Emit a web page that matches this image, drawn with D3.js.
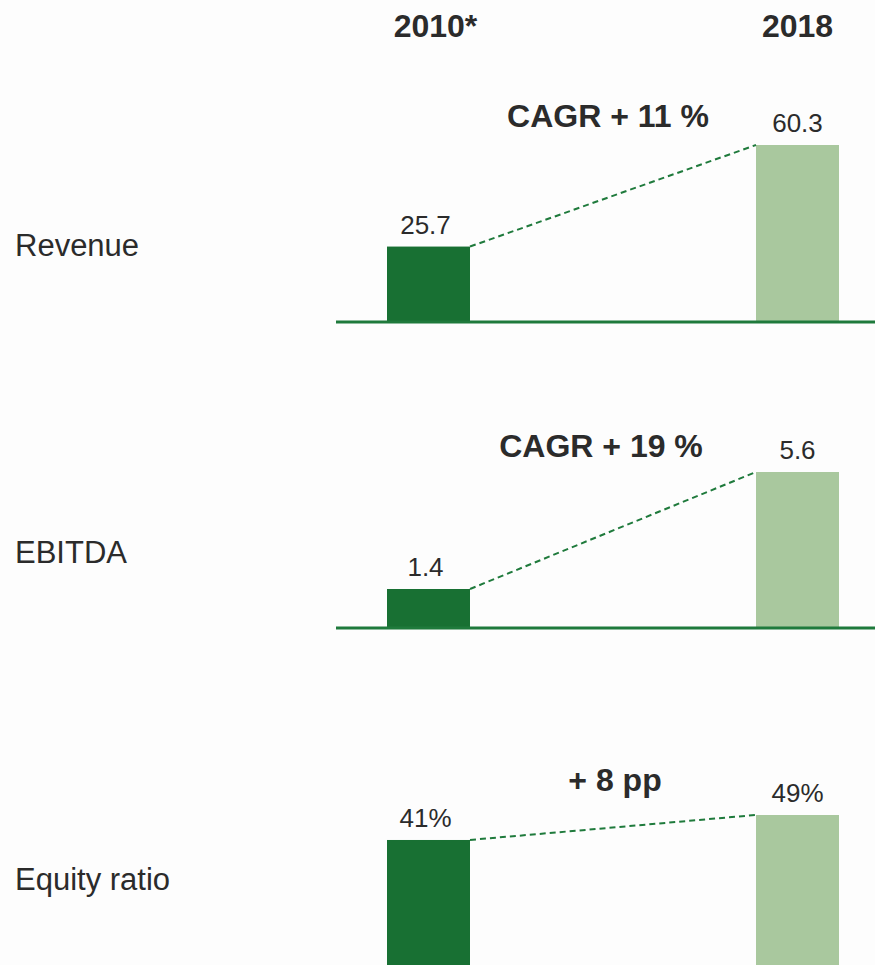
<!DOCTYPE html>
<html>
<head>
<meta charset="utf-8">
<script src="https://cdn.jsdelivr.net/npm/d3@7"></script>
<style>
  body { margin: 0; background: #fdfdfd; }
  svg { display: block; font-family: "Liberation Sans", Arial, sans-serif; }
</style>
</head>
<body>
<div id="chart"></div>
<script>
const years = ["2010*", "2018"];
const metrics = ["Revenue", "EBITDA", "Equity ratio"];
const values2010 = [25.7, 1.4, 41];
const values2018 = [60.3, 5.6, 49];
const valueLabels2010 = ["25.7", "1.4", "41%"];
const valueLabels2018 = ["60.3", "5.6", "49%"];
const changeLabels = ["CAGR + 11 %", "CAGR + 19 %", "+ 8 pp"];

const width = 875;
const height = 965;

// layout per panel: baseline y, pixel top for the 2018 bar, label positions
const panels = [
  { base: 322, top: 145, labelY: 256, changeX: 608, changeY: 127, axis: true },
  { base: 628, top: 472, labelY: 563, changeX: 601, changeY: 457, axis: true },
  { base: 968, top: 815, labelY: 890, changeX: 615, changeY: 791, axis: false },
];

const darkGreen = "#187033";
const lightGreen = "#a9c89e";
const textColor = "#2b2b2b";

const svg = d3
  .select("#chart")
  .append("svg")
  .attr("width", width)
  .attr("height", height);

const xPos = d3.scaleOrdinal().domain(years).range([387, 756]);
const barWidth = 83;

// year headers (the asterisk hangs off the centred "2010")
svg
  .selectAll(".year")
  .data(years)
  .enter()
  .append("text")
  .attr("class", "year")
  .attr("x", (d, j) => xPos(d) + barWidth / 2 + (j === 0 ? 7 : 0))
  .attr("y", 37)
  .attr("text-anchor", "middle")
  .style("font-size", "32px")
  .style("font-weight", "bold")
  .attr("fill", textColor)
  .text((d) => d);

metrics.forEach((metric, i) => {
  const p = panels[i];
  const yScale = d3
    .scaleLinear()
    .domain([0, values2018[i]])
    .range([p.base, p.top]);

  const g = svg.append("g").attr("class", "panel");

  g.append("text")
    .attr("x", 15)
    .attr("y", p.labelY)
    .style("font-size", "31px")
    .attr("fill", textColor)
    .text(metric);

  const data = [
    { year: years[0], value: values2010[i], label: valueLabels2010[i], color: darkGreen },
    { year: years[1], value: values2018[i], label: valueLabels2018[i], color: lightGreen },
  ];

  g.selectAll(".bar")
    .data(data)
    .enter()
    .append("rect")
    .attr("class", "bar")
    .attr("x", (d) => xPos(d.year))
    .attr("y", (d) => yScale(d.value))
    .attr("width", barWidth)
    .attr("height", (d) => p.base - yScale(d.value))
    .attr("fill", (d) => d.color);

  g.selectAll(".val")
    .data(data)
    .enter()
    .append("text")
    .attr("class", "val")
    .attr("x", (d, j) => xPos(d.year) + barWidth / 2 - (j === 0 ? 3 : 0))
    .attr("y", (d) => yScale(d.value) - 13)
    .attr("text-anchor", "middle")
    .style("font-size", "26px")
    .attr("fill", textColor)
    .text((d) => d.label);

  // dashed connector
  g.append("line")
    .attr("x1", xPos(years[0]) + barWidth)
    .attr("y1", yScale(values2010[i]))
    .attr("x2", xPos(years[1]))
    .attr("y2", yScale(values2018[i]))
    .attr("stroke", "#1f7a3c")
    .attr("stroke-width", 2)
    .attr("stroke-dasharray", "6,4");

  g.append("text")
    .attr("x", p.changeX)
    .attr("y", p.changeY)
    .attr("text-anchor", "middle")
    .style("font-size", "32px")
    .style("font-weight", "bold")
    .attr("fill", textColor)
    .text(changeLabels[i]);

  if (p.axis) {
    g.append("line")
      .attr("x1", 336)
      .attr("x2", width)
      .attr("y1", p.base)
      .attr("y2", p.base)
      .attr("stroke", "#1f7a3c")
      .attr("stroke-width", 3);
  }
});
</script>
</body>
</html>
